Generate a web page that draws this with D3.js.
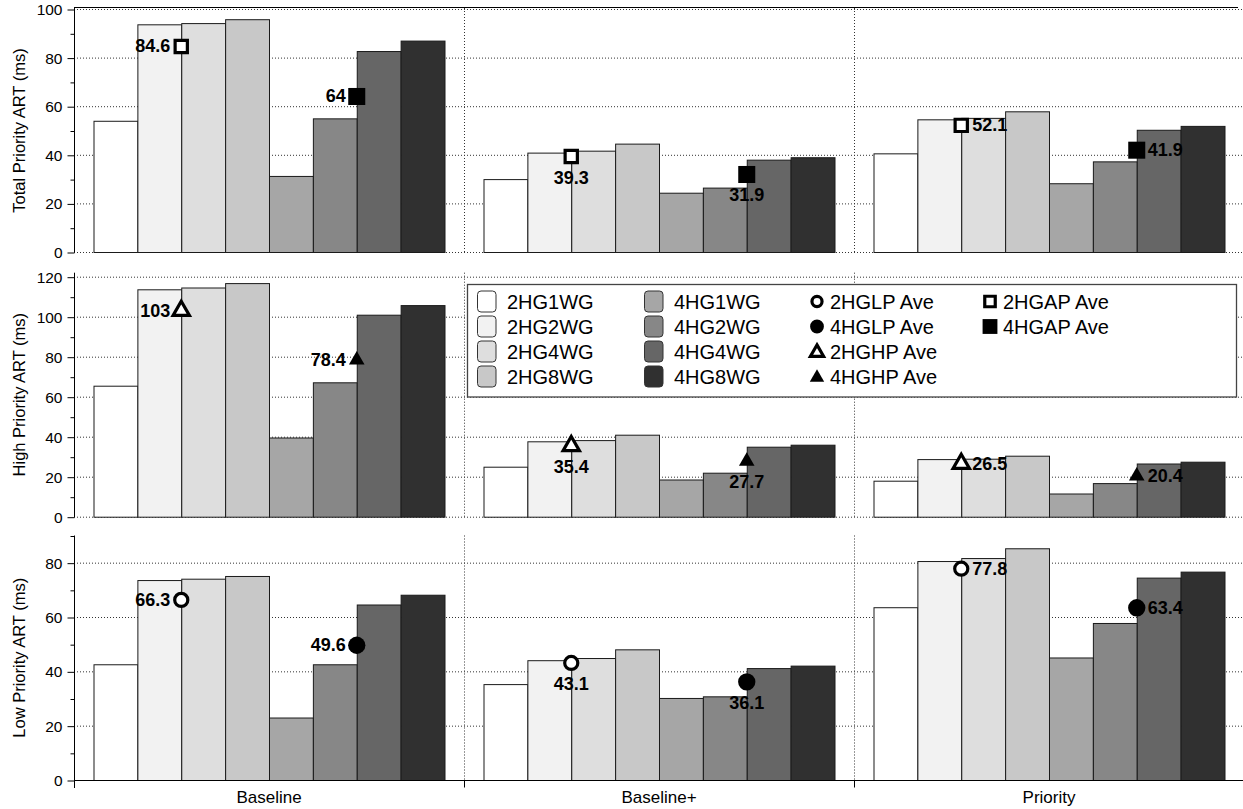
<!DOCTYPE html>
<html>
<head>
<meta charset="utf-8">
<script src="https://cdn.jsdelivr.net/npm/d3@7"></script>
<style>
  html, body { margin: 0; padding: 0; background: #fff; }
  svg { display: block; font-family: "Liberation Sans", Arial, Helvetica, sans-serif; }
</style>
</head>
<body>
<svg id="chart" width="1243" height="809"></svg>
<script>
// ---------------- data ----------------
const groups = ["Baseline", "Baseline+", "Priority"];
const series = ["2HG1WG", "2HG2WG", "2HG4WG", "2HG8WG", "4HG1WG", "4HG2WG", "4HG4WG", "4HG8WG"];
const seriesColors = ["#ffffff", "#f2f2f2", "#dedede", "#c8c8c8", "#a6a6a6", "#878787", "#666666", "#303030"];

// rows: group, columns: series
const totalValues = [
  [54.0, 93.7, 94.2, 95.8, 31.3, 55.0, 82.7, 87.0],
  [30.0, 40.9, 41.7, 44.6, 24.4, 26.5, 38.0, 39.0],
  [40.6, 54.6, 55.2, 57.9, 28.3, 37.3, 50.3, 51.9]
];
const highValues = [
  [65.5, 113.7, 114.6, 116.8, 39.6, 67.2, 101.0, 105.8],
  [25.0, 37.7, 38.3, 41.0, 18.6, 22.0, 35.0, 36.0],
  [18.0, 28.8, 29.0, 30.5, 11.6, 16.8, 26.6, 27.5]
];
const lowValues = [
  [42.6, 73.6, 74.1, 75.1, 23.0, 42.6, 64.6, 68.2],
  [35.3, 44.1, 44.9, 48.1, 30.2, 30.8, 41.2, 42.1],
  [63.6, 80.6, 81.7, 85.3, 45.1, 57.8, 74.5, 76.7]
];

const totalAvg2HG = [84.6, 39.3, 52.1];   // 2HGAP Ave
const totalAvg4HG = [64, 31.9, 41.9];     // 4HGAP Ave
const highAvg2HG = [103, 35.4, 26.5];     // 2HGHP Ave
const highAvg4HG = [78.4, 27.7, 20.4];    // 4HGHP Ave
const lowAvg2HG = [66.3, 43.1, 77.8];     // 2HGLP Ave
const lowAvg4HG = [49.6, 36.1, 63.4];     // 4HGLP Ave

const yTitles = ["Total Priority ART (ms)", "High Priority ART (ms)", "Low Priority ART (ms)"];
const yMax = [100, 122, 90];
const yMajorTicks = [[0, 20, 40, 60, 80, 100], [0, 20, 40, 60, 80, 100, 120], [0, 20, 40, 60, 80]];
const yMinorTicks = [[10, 30, 50, 70, 90], [10, 30, 50, 70, 90, 110], [10, 30, 50, 70, 90]];

const legendMarkers = [
  {label: "2HGLP Ave", shape: "circle", open: true},
  {label: "4HGLP Ave", shape: "circle", open: false},
  {label: "2HGHP Ave", shape: "triangle", open: true},
  {label: "4HGHP Ave", shape: "triangle", open: false},
  {label: "2HGAP Ave", shape: "square", open: true},
  {label: "4HGAP Ave", shape: "square", open: false}
];

// ---------------- layout ----------------
const svg = d3.select("#chart");
const plotLeft = 74, plotRight = 1244;
const panels = [
  {top: 9, bottom: 252, values: totalValues, avg2: totalAvg2HG, avg4: totalAvg4HG, shape: "square"},
  {top: 272.7, bottom: 516.7, values: highValues, avg2: highAvg2HG, avg4: highAvg4HG, shape: "triangle"},
  {top: 535.5, bottom: 780, values: lowValues, avg2: lowAvg2HG, avg4: lowAvg4HG, shape: "circle"}
];

const xGroup = d3.scaleBand().domain(groups).range([plotLeft, plotRight]).padding(0);
const gw = xGroup.bandwidth();
const xInner = d3.scaleBand().domain(series).range([19.5, gw - 19.5]).padding(0);
const color = d3.scaleOrdinal().domain(series).range(seriesColors);

function symbolPath(shape, open) {
  if (shape === "square") return d3.symbol(d3.symbolSquare, open ? 150 : 290)();
  if (shape === "circle") return d3.symbol(d3.symbolCircle, open ? 135 : 235)();
  return d3.symbol(d3.symbolTriangle, open ? 115 : 105)();
}

panels.forEach((p, pi) => {
  const y = d3.scaleLinear().domain([0, yMax[pi]]).range([p.bottom, p.top]);
  const g = svg.append("g");

  // gridlines (dotted)
  g.append("g").selectAll("line").data(yMajorTicks[pi]).join("line")
    .attr("x1", plotLeft).attr("x2", plotRight)
    .attr("y1", d => y(d) + 0.5).attr("y2", d => y(d) + 0.5)
    .attr("stroke", "#333").attr("stroke-width", 1).attr("stroke-dasharray", "1,2");

  // vertical dotted separators
  g.append("g").selectAll("line").data(groups.slice(1)).join("line")
    .attr("x1", d => xGroup(d) + 0.5).attr("x2", d => xGroup(d) + 0.5)
    .attr("y1", pi === 0 ? 8 : p.top).attr("y2", p.bottom)
    .attr("stroke", "#333").attr("stroke-width", 1).attr("stroke-dasharray", "1,2");

  // bars
  const gg = g.append("g").selectAll("g").data(groups).join("g")
    .attr("transform", d => `translate(${xGroup(d)},0)`);
  gg.selectAll("rect").data((d, i) => p.values[i].map((v, j) => ({s: series[j], v})))
    .join("rect")
    .attr("x", d => xInner(d.s) + 0.5)
    .attr("width", xInner.bandwidth())
    .attr("y", d => y(d.v) + 0.5)
    .attr("height", d => y(0) - y(d.v))
    .attr("fill", d => color(d.s))
    .attr("stroke", "#1a1a1a").attr("stroke-width", 1);

  // y axis major
  const axMaj = g.append("g").attr("transform", `translate(${plotLeft + 0.5},0.5)`)
    .call(d3.axisLeft(y).tickValues(yMajorTicks[pi]).tickSize(7).tickPadding(5).tickFormat(d3.format("d")));
  axMaj.select(".domain").remove();
  axMaj.selectAll("text").attr("font-size", 15.5).attr("fill", "#000")
    .attr("font-family", "'Liberation Sans', Arial, sans-serif");
  const axMin = g.append("g").attr("transform", `translate(${plotLeft + 0.5},0.5)`)
    .call(d3.axisLeft(y).tickValues(yMinorTicks[pi]).tickSize(4).tickFormat(""));
  axMin.select(".domain").remove();
  g.append("line").attr("x1", plotLeft + 0.5).attr("x2", plotLeft + 0.5)
    .attr("y1", pi === 0 ? 7 : p.top).attr("y2", pi === 2 ? p.bottom + 8 : p.bottom + 0.5)
    .attr("stroke", "#000").attr("stroke-width", 1);

  // y title
  g.append("text")
    .attr("transform", `translate(21,${(p.top + p.bottom) / 2}) rotate(-90)`)
    .attr("text-anchor", "middle").attr("dominant-baseline", "middle")
    .attr("font-size", 16.5).text(yTitles[pi]);

  // average markers
  const avgData = [];
  groups.forEach((gname, gi) => {
    avgData.push({g: gname, gi, v: p.avg2[gi], cx: xGroup(gname) + xInner(series[2]), open: true});
    avgData.push({g: gname, gi, v: p.avg4[gi], cx: xGroup(gname) + xInner(series[6]), open: false});
  });
  const mg = g.append("g");
  mg.selectAll("path").data(avgData).join("path")
    .attr("transform", d => `translate(${d.cx},${y(d.v)})`)
    .attr("d", d => symbolPath(p.shape, d.open))
    .attr("fill", d => d.open ? "#fff" : "#000")
    .attr("stroke", "#000").attr("stroke-width", d => d.open ? 3.2 : 0);
  mg.selectAll("text").data(avgData).join("text")
    .attr("x", d => d.gi === 0 ? d.cx - 11 : d.gi === 2 ? d.cx + 11 : d.cx)
    .attr("y", d => d.gi === 1 ? y(d.v) + 27 : y(d.v) + 6)
    .attr("text-anchor", d => d.gi === 0 ? "end" : d.gi === 2 ? "start" : "middle")
    .attr("font-size", 18).attr("font-weight", "bold")
    .text(d => d.v);
});

// top frame line
svg.append("line").attr("x1", plotLeft).attr("x2", plotRight - 6)
  .attr("y1", 7.5).attr("y2", 7.5).attr("stroke", "#000").attr("stroke-width", 1.2);

// bottom x axis
const xb = svg.append("g").attr("transform", `translate(0,${780.5})`);
xb.append("line").attr("x1", plotLeft).attr("x2", plotRight).attr("stroke", "#000");
xb.selectAll("line.tk").data(groups.slice(1)).join("line").attr("class", "tk")
  .attr("x1", d => xGroup(d) + 0.5).attr("x2", d => xGroup(d) + 0.5)
  .attr("y1", 0).attr("y2", 7).attr("stroke", "#000");
xb.selectAll("text").data(groups).join("text")
  .attr("x", d => xGroup(d) + gw / 2).attr("y", 22.5)
  .attr("text-anchor", "middle").attr("font-size", 17).text(d => d);

// ---------------- legend ----------------
const lg = svg.append("g");
lg.append("rect").attr("x", 467.5).attr("y", 284.5).attr("width", 769).attr("height", 112.5)
  .attr("fill", "#fff").attr("stroke", "#444").attr("stroke-width", 1.3);
const rowY = [301.5, 326.5, 351.5, 376.5];
series.forEach((s, i) => {
  const col = Math.floor(i / 4), row = i % 4;
  const sx = col === 0 ? 477.5 : 644.5;
  lg.append("rect").attr("x", sx).attr("y", rowY[row] - 10.5).attr("width", 18.5).attr("height", 21)
    .attr("rx", 3.5).attr("fill", color(s)).attr("stroke", "#333").attr("stroke-width", 1);
  lg.append("text").attr("x", sx + 29.5).attr("y", rowY[row] + 7.5)
    .attr("font-size", 20).text(s);
});
legendMarkers.forEach((m, i) => {
  const col = Math.floor(i / 4), row = i % 4;
  const mx = col === 0 ? 817 : 990;
  let path;
  if (m.shape === "circle") path = d3.symbol(d3.symbolCircle, m.open ? 80 : 150)();
  else if (m.shape === "triangle") path = d3.symbol(d3.symbolTriangle, m.open ? 75 : 90)();
  else path = d3.symbol(d3.symbolSquare, m.open ? 110 : 220)();
  lg.append("path").attr("transform", `translate(${mx},${rowY[row] + (m.shape === "triangle" ? 1 : 0)})`)
    .attr("d", path).attr("fill", m.open ? "#fff" : "#000")
    .attr("stroke", "#000").attr("stroke-width", m.open ? 3.2 : 0);
  lg.append("text").attr("x", mx + 13).attr("y", rowY[row] + 7.5)
    .attr("font-size", 20).text(m.label);
});
</script>
</body>
</html>
